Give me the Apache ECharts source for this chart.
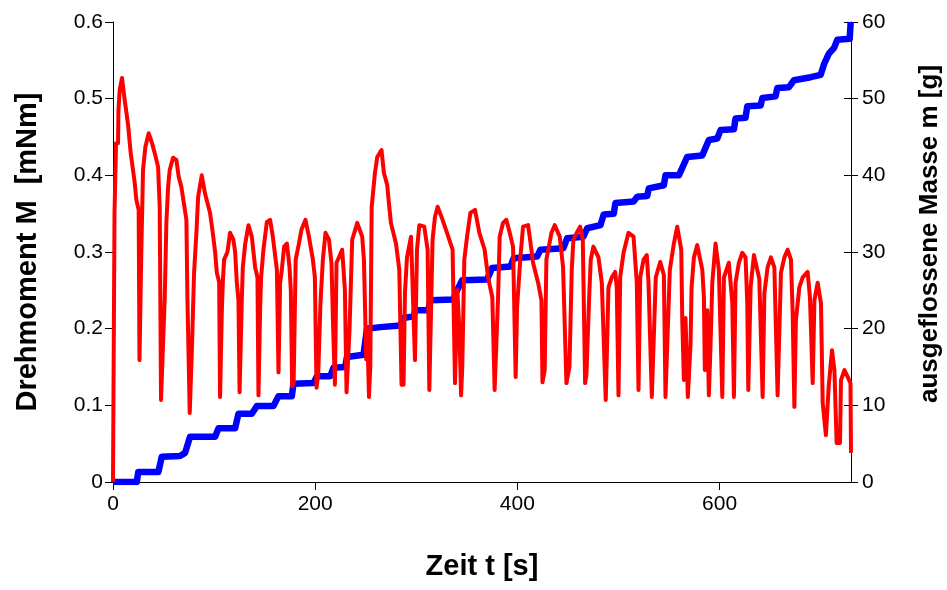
<!DOCTYPE html>
<html>
<head>
<meta charset="utf-8">
<script src="https://cdn.jsdelivr.net/npm/echarts@6/dist/echarts.min.js"></script>
<style>
html,body{margin:0;padding:0;background:#fff;}
#chart{width:947px;height:590px;}
</style>
</head>
<body>
<div id="chart"></div>
<script>
// Torque (Drehmoment M, mNm) vs time t (s)
var torqueT = [0,1.5,2.3,3.0,5.0,5.4,6.6,8.9,11.6,14.9,17.5,19.8,21.5,23.1,25.4,26.2,27.2,28.0,29.7,32.0,35.3,38.6,41.3,44.6,46.2,47.5,48.5,51.2,52.8,54.5,56.1,59.4,62.7,65.0,67.6,72.6,73.6,75.9,78.2,80.2,82.5,84.2,87.8,91.1,96.0,98.7,101.0,102.7,105.0,105.9,107.6,108.6,109.9,113.2,115.8,119.1,120.8,122.5,124.1,125.2,126.4,127.4,128.4,130.7,134.0,137.3,140.6,142.9,143.9,145.5,146.5,148.8,152.2,155.4,158.1,162.1,163.7,165.3,167.0,169.3,172.0,174.6,175.9,177.2,178.7,180.7,183.9,186.4,190.4,193.8,197.7,199.7,201.3,203.0,205.2,207.6,210.2,213.6,216.1,217.8,219.5,221.1,223.5,226.7,229.4,231.0,234.0,236.6,241.6,246.5,248.2,250.5,251.5,253.2,254.5,255.9,259.1,261.4,265.6,268.0,271.3,272.3,274.9,279.9,283.2,285.4,287.4,288.8,290.8,294.8,298.7,300.7,303.0,307.9,311.2,312.9,316.1,318.5,321.1,326.0,330.4,335.9,338.3,340.6,342.6,344.3,345.5,347.5,350.2,353.5,358.1,362.4,367.6,371.0,375.2,377.5,380.9,382.5,385.8,389.1,392.4,395.7,398.3,399.7,403.0,405.6,410.6,412.2,415.5,420.5,423.8,424.8,427.0,428.7,433.7,436.9,441.9,445.2,448.5,451.5,453.8,455.4,458.7,462.1,464.7,467.0,468.3,471.0,472.6,475.2,480.2,483.5,487.4,490.1,493.4,496.7,498.3,500.0,501.7,505.0,509.9,514.9,518.1,519.8,521.5,524.8,528.0,529.7,533.0,536.9,541.3,544.9,546.5,550.8,554.8,558.1,562.1,563.1,564.7,566.3,568.6,571.3,572.3,574.6,577.9,582.9,584.5,585.4,587.8,589.4,591.1,592.8,596.0,599.3,602.7,604.3,609.2,612.6,614.2,615.8,619.1,622.5,625.7,627.4,628.4,630.7,634.0,639.3,642.6,644.3,647.5,650.8,654.2,657.4,660.7,664.1,667.3,670.6,672.3,674.0,675.5,678.9,682.2,687.1,689.4,692.1,693.8,697.0,700.3,702.0,705.2,707.9,711.2,713.6,715.8,719.1,720.1,723.5,726.7,729.5,730];
var torqueM = [0,0.351,0.351,0.442,0.442,0.485,0.511,0.527,0.498,0.466,0.429,0.407,0.39,0.368,0.355,0.159,0.159,0.30,0.407,0.437,0.455,0.442,0.429,0.411,0.359,0.107,0.107,0.241,0.338,0.385,0.407,0.423,0.42,0.398,0.385,0.342,0.241,0.09,0.18,0.273,0.325,0.372,0.40,0.376,0.351,0.325,0.30,0.273,0.261,0.111,0.221,0.26,0.29,0.30,0.325,0.316,0.30,0.26,0.237,0.117,0.117,0.237,0.28,0.31,0.335,0.32,0.28,0.267,0.113,0.224,0.267,0.303,0.339,0.342,0.32,0.277,0.143,0.26,0.277,0.307,0.311,0.28,0.25,0.125,0.13,0.29,0.311,0.329,0.342,0.32,0.29,0.267,0.123,0.14,0.233,0.29,0.325,0.316,0.286,0.2,0.127,0.286,0.293,0.303,0.25,0.117,0.2,0.316,0.338,0.32,0.29,0.16,0.2,0.111,0.15,0.359,0.403,0.424,0.433,0.403,0.387,0.372,0.338,0.311,0.277,0.127,0.127,0.247,0.293,0.32,0.159,0.303,0.335,0.333,0.303,0.12,0.316,0.346,0.359,0.342,0.325,0.303,0.129,0.25,0.2,0.113,0.15,0.29,0.32,0.351,0.355,0.325,0.303,0.267,0.241,0.12,0.241,0.32,0.338,0.342,0.325,0.307,0.137,0.228,0.293,0.333,0.335,0.32,0.286,0.26,0.237,0.13,0.146,0.29,0.325,0.335,0.32,0.28,0.129,0.15,0.277,0.316,0.325,0.333,0.316,0.129,0.14,0.241,0.29,0.307,0.293,0.26,0.107,0.254,0.267,0.274,0.254,0.113,0.267,0.299,0.325,0.32,0.26,0.12,0.267,0.29,0.296,0.26,0.111,0.267,0.287,0.27,0.111,0.277,0.311,0.333,0.303,0.211,0.133,0.214,0.111,0.18,0.254,0.293,0.309,0.277,0.241,0.146,0.224,0.113,0.18,0.26,0.311,0.277,0.111,0.267,0.286,0.233,0.111,0.26,0.286,0.299,0.293,0.233,0.12,0.254,0.296,0.265,0.111,0.246,0.28,0.293,0.28,0.113,0.273,0.293,0.303,0.29,0.22,0.098,0.211,0.254,0.267,0.274,0.241,0.129,0.237,0.26,0.233,0.103,0.061,0.124,0.172,0.146,0.051,0.051,0.133,0.146,0.137,0.129,0.038];

// Outflowed mass (ausgeflossene Masse m, g) vs time t (s)
var massT = [0,23.5,25.0,44.9,48.2,66.3,71.3,76.2,101.0,104.3,120.8,124.1,137.3,142.3,158.7,163.7,176.9,178.5,198.3,201.7,214.9,218.1,229.7,231.4,247.8,251.2,264.4,284.2,287.4,297.3,299.0,311.9,313.9,336.6,338.6,345.2,370.0,374.9,393.1,396.3,419.5,422.8,445.5,449.2,465.3,469.0,482.2,485.4,495.3,497.0,515.1,518.5,528.4,530.0,544.9,546.5,559.7,568.0,582.9,589.4,597.7,601.0,614.2,615.8,625.7,627.4,640.6,642.3,655.4,657.1,668.6,673.6,690.1,700.0,703.3,708.2,713.2,716.5,728.7,729.7];
var massM = [0,0,1.3,1.3,3.3,3.4,3.8,5.9,5.9,7.0,7.0,8.9,8.9,9.9,9.9,11.2,11.2,12.8,12.9,13.8,13.8,14.9,15.0,16.3,16.6,20.0,20.2,20.4,21.4,21.6,22.4,22.4,23.7,23.8,24.5,26.3,26.4,27.9,28.1,29.2,29.4,30.3,30.5,31.8,32.0,33.1,33.5,34.9,35.0,36.4,36.6,37.2,37.3,38.3,38.7,40.0,40.0,42.4,42.6,44.6,44.8,45.9,46.0,47.4,47.5,49.0,49.1,50.1,50.3,51.4,51.5,52.4,52.8,53.1,54.5,55.9,56.6,57.7,57.8,60];

var xTicks = [0, 200, 400, 600];

var torqueData = torqueT.map(function (t, i) { return [t, torqueM[i]]; });
var massData = massT.map(function (t, i) { return [t, massM[i]]; });

var FONT = '"Liberation Sans", Arial, sans-serif';
var LABEL = {fontFamily: FONT, fontSize: 21, color: '#000'};
function title(size, extra) {
  return Object.assign({fontFamily: FONT, fontSize: size, fontWeight: 'bold', color: '#000'}, extra || {});
}

var chart = echarts.init(document.getElementById('chart'), null, {renderer: 'canvas'});
chart.setOption({
  animation: false,
  backgroundColor: '#ffffff',
  grid: {left: 113, right: 96, top: 22, bottom: 108, containLabel: false, outerBoundsMode: 'none'},
  xAxis: {
    type: 'value', min: 0, max: 730,
    name: 'Zeit t [s]', nameLocation: 'middle', nameGap: 70,
    nameTextStyle: title(29),
    axisLine: {show: true, lineStyle: {color: '#000', width: 1}},
    axisTick: {show: true, inside: false, length: 8, customValues: xTicks, lineStyle: {color: '#000'}},
    axisLabel: Object.assign({customValues: xTicks, margin: 12}, LABEL),
    splitLine: {show: false}
  },
  yAxis: [
    {
      type: 'value', min: 0, max: 0.6, interval: 0.1, position: 'left',
      name: 'Drehmoment M  [mNm]', nameLocation: 'middle', nameGap: 71, nameRotate: 90,
      nameTextStyle: title(29),
      axisLine: {show: true, lineStyle: {color: '#000', width: 1}},
      axisTick: {show: true, inside: false, length: 8, lineStyle: {color: '#000'}},
      axisLabel: Object.assign({margin: 10}, LABEL),
      splitLine: {show: false}
    },
    {
      type: 'value', min: 0, max: 60, interval: 10, position: 'right',
      name: 'ausgeflossene Masse m [g]', nameLocation: 'middle', nameGap: 66, nameRotate: 90,
      nameTextStyle: title(26, {padding: [0, 0, 0, 36]}),
      axisLine: {show: true, lineStyle: {color: '#000', width: 1}},
      axisTick: {show: true, inside: false, length: 7, lineStyle: {color: '#000'}},
      axisLabel: Object.assign({margin: 11}, LABEL),
      splitLine: {show: false}
    },
    {
      type: 'value', min: 0, max: 60, interval: 10, position: 'right',
      axisLine: {show: false},
      axisTick: {show: true, inside: true, length: 7, lineStyle: {color: '#000'}},
      axisLabel: {show: false},
      splitLine: {show: false}
    }
  ],
  series: [
    {
      type: 'line', yAxisIndex: 1, data: massData, showSymbol: false, symbol: 'none',
      lineStyle: {color: '#0000ff', width: 6.5, join: 'round'}, z: 2
    },
    {
      type: 'line', yAxisIndex: 0, data: torqueData, showSymbol: false, symbol: 'none',
      lineStyle: {color: '#ff0000', width: 4, join: 'round'}, z: 3
    }
  ]
});
</script>
</body>
</html>
